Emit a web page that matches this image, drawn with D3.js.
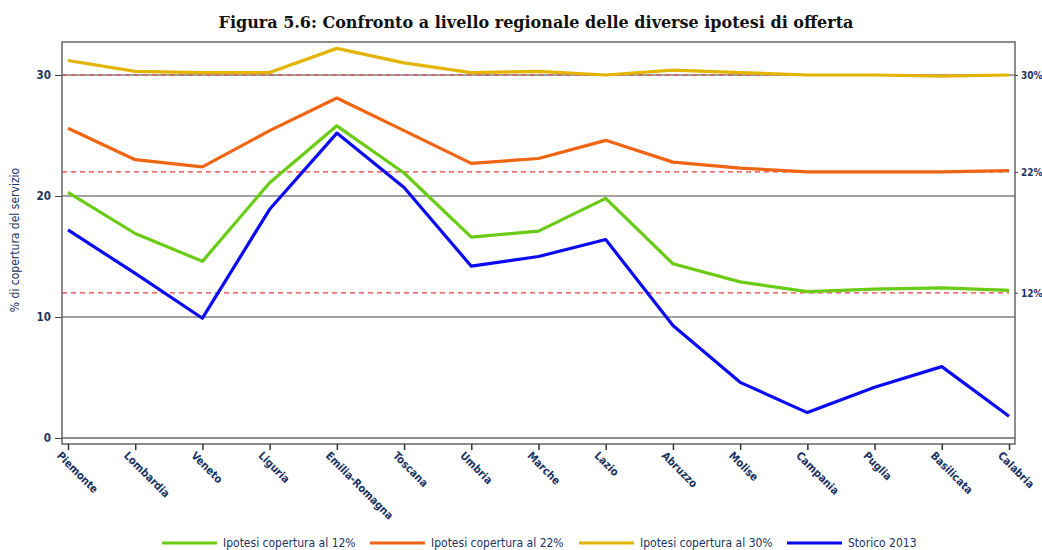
<!DOCTYPE html>
<html>
<head>
<meta charset="utf-8">
<script src="https://cdn.jsdelivr.net/npm/d3@7"></script>
<style>
  body { margin: 0; background: #fff; }
  text { fill: #1b3363; }
</style>
</head>
<body>
<div id="chart"></div>
<script>
// regions and series
let regions = ["Piemonte", "Lombardia", "Veneto", "Liguria", "Emilia-Romagna", "Toscana", "Umbria",
  "Marche", "Lazio", "Abruzzo", "Molise", "Campania", "Puglia", "Basilicata", "Calabria"];

let ipotesi12 = [20.3, 16.9, 14.6, 21.1, 25.8, 21.9, 16.6, 17.1, 19.8, 14.4, 12.9, 12.1, 12.3, 12.4, 12.2];
let ipotesi22 = [25.6, 23.0, 22.4, 25.4, 28.1, 25.4, 22.7, 23.1, 24.6, 22.8, 22.3, 22.0, 22.0, 22.0, 22.1];
let ipotesi30 = [31.2, 30.3, 30.2, 30.2, 32.2, 31.0, 30.2, 30.3, 30.0, 30.4, 30.2, 30.0, 30.0, 29.9, 30.0];
let storico2013 = [17.2, 13.6, 9.9, 18.9, 25.2, 20.7, 14.2, 15.0, 16.4, 9.3, 4.6, 2.1, 4.2, 5.9, 1.8];

let yTicks = [0, 10, 20, 30];
let targets = [12, 22, 30];
let targetLabels = ["12%", "22%", "30%"];

let seriesNames = ["Ipotesi copertura al 12%", "Ipotesi copertura al 22%", "Ipotesi copertura al 30%", "Storico 2013"];
let seriesColors = ["#6acb14", "#ef6512", "#e3b400", "#0a0af5"];

let width = 1042, height = 550;
let frame = {left: 62, right: 1015, top: 42, bottom: 444};
let labelFont = "'DejaVu Sans Condensed', 'DejaVu Sans', sans-serif";

let svg = d3.select("#chart").append("svg")
    .attr("width", width)
    .attr("height", height);

let x = d3.scalePoint().domain(regions).range([68, 1009]);
let y = d3.scaleLinear().domain([0, 30]).range([438, 75]);

// title
svg.append("text")
    .attr("x", 536).attr("y", 28)
    .attr("text-anchor", "middle")
    .style("font-family", "'DejaVu Serif', serif")
    .style("font-weight", "bold")
    .style("font-size", "16px")
    .style("fill", "#111")
    .text("Figura 5.6: Confronto a livello regionale delle diverse ipotesi di offerta");

// grid lines
svg.selectAll(".grid").data(yTicks).enter()
  .append("line")
    .attr("x1", frame.left).attr("x2", frame.right)
    .attr("y1", d => y(d)).attr("y2", d => y(d))
    .attr("stroke", d => d == 0 ? "#8a8a8a" : "#444")
    .attr("stroke-width", d => d == 0 ? 2 : 1.2);

// target dashed lines
svg.selectAll(".target").data(targets).enter()
  .append("line")
    .attr("x1", frame.left).attr("x2", x("Calabria"))
    .attr("y1", d => y(d)).attr("y2", d => y(d))
    .attr("stroke", "#f03c3c")
    .attr("stroke-width", 1.2)
    .attr("stroke-dasharray", "5,4");

// series lines
let allSeries = [ipotesi12, ipotesi22, ipotesi30, storico2013];
let line = d3.line()
    .x((d, i) => x(regions[i]))
    .y(d => y(d));

svg.selectAll(".serie").data(allSeries).enter()
  .append("path")
    .attr("d", line)
    .attr("fill", "none")
    .attr("stroke", (d, i) => seriesColors[i])
    .attr("stroke-width", 3.2)
    .attr("stroke-linejoin", "round");

// frame
svg.append("rect")
    .attr("x", frame.left).attr("y", frame.top)
    .attr("width", frame.right - frame.left)
    .attr("height", frame.bottom - frame.top)
    .attr("fill", "none")
    .attr("stroke", "#666")
    .attr("stroke-width", 1.5);

// left axis
let yAxis = svg.append("g")
    .attr("transform", "translate(" + frame.left + ",0)")
    .call(d3.axisLeft(y).tickValues(yTicks).tickSize(7).tickPadding(4));
yAxis.select(".domain").remove();
yAxis.selectAll("line").attr("stroke", "#444");
yAxis.selectAll("text")
    .style("font-family", labelFont)
    .style("font-weight", "bold")
    .style("font-size", "11.5px")
    .style("fill", "#1b3363");

// right axis for targets
let yRight = svg.append("g")
    .attr("transform", "translate(" + frame.right + ",0)")
    .call(d3.axisRight(y).tickValues(targets).tickSize(3).tickPadding(3)
      .tickFormat((d, i) => targetLabels[i]));
yRight.select(".domain").remove();
yRight.selectAll("line").attr("stroke", "#444");
yRight.selectAll("text")
    .style("font-family", labelFont)
    .style("font-weight", "bold")
    .style("font-size", "10px")
    .style("fill", "#1b3363");

// bottom axis
let xAxis = svg.append("g")
    .attr("transform", "translate(0," + frame.bottom + ")")
    .call(d3.axisBottom(x).tickSize(6).tickPadding(6));
xAxis.select(".domain").remove();
xAxis.selectAll("line").attr("stroke", "#333").attr("stroke-width", 1.5);
xAxis.selectAll("text")
    .attr("text-anchor", "start")
    .attr("transform", "translate(0,0) rotate(45)")
    .attr("dy", "0.5em")
    .style("font-family", labelFont)
    .style("font-weight", "bold")
    .style("font-size", "11px")
    .style("fill", "#1b3363");

// y axis title
svg.append("text")
    .attr("transform", "translate(19,240) rotate(-90)")
    .attr("text-anchor", "middle")
    .style("font-family", labelFont)
    .style("font-size", "12px")
    .text("% di copertura del servizio");

// legend
let legendX = [162, 370, 579, 787];
let legend = svg.selectAll(".leg").data(seriesNames).enter()
  .append("g")
    .attr("transform", (d, i) => "translate(" + legendX[i] + ",543)");
legend.append("line")
    .attr("x1", 0).attr("x2", 55)
    .attr("stroke", (d, i) => seriesColors[i])
    .attr("stroke-width", 3.2);
legend.append("text")
    .attr("x", 61).attr("dy", "0.35em")
    .style("font-family", labelFont)
    .style("font-size", "12px")
    .text(d => d);
</script>
</body>
</html>
